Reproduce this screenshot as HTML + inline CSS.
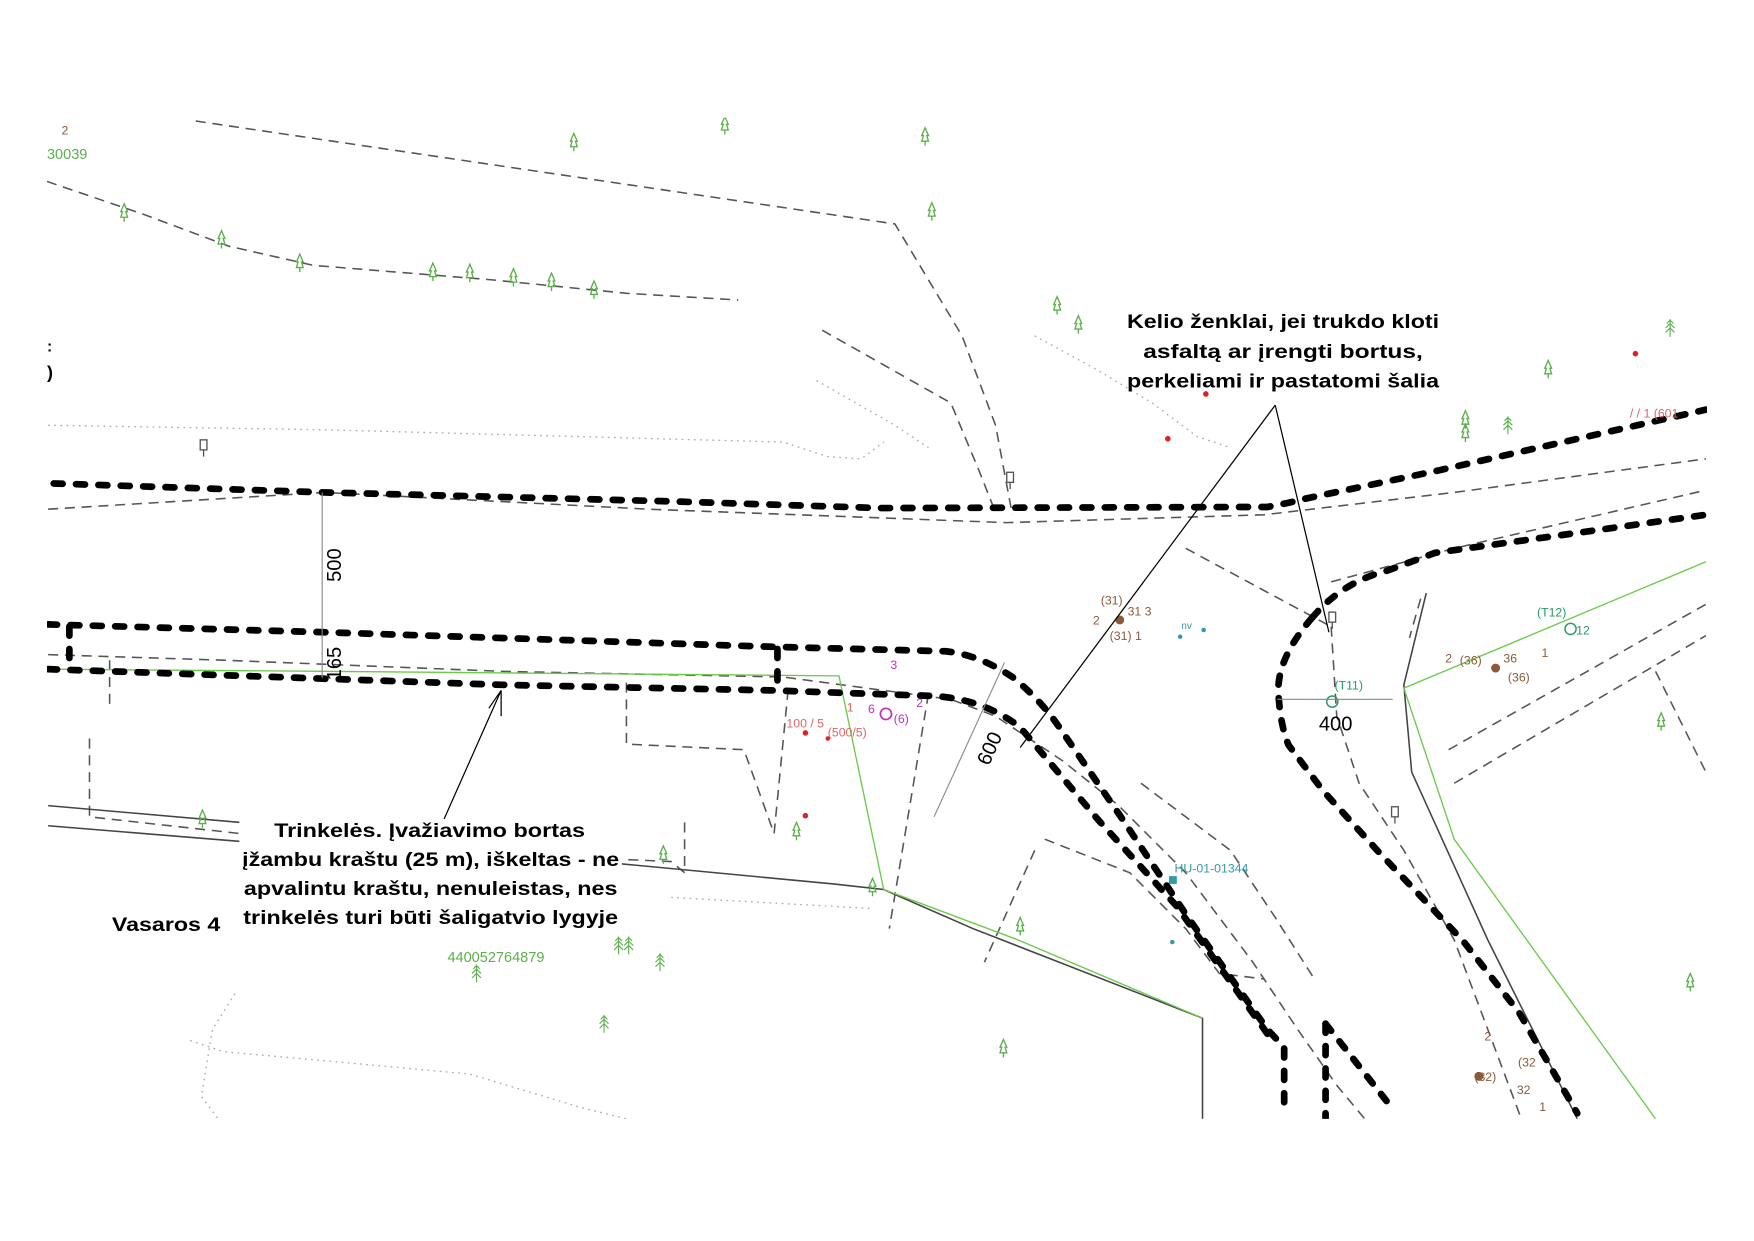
<!DOCTYPE html>
<html><head><meta charset="utf-8"><style>
html,body{margin:0;padding:0;background:#fff;}
svg{display:block;}
.b{font-family:"Liberation Sans",sans-serif;font-weight:bold;}
</style></head><body>
<svg width="1754" height="1241" viewBox="0 0 1568 1109" xmlns="http://www.w3.org/2000/svg">
<defs>
<clipPath id="map"><rect x="42" y="105" width="1484" height="895"/></clipPath>
<g id="tr"><path d="M0,-8 L3,-1 L1.5,-1 L3,4 L-3,4 L-1.5,-1 L-3,-1 Z M0,4 L0,8" fill="none" stroke="#5bb04a" stroke-width="1.2"/></g>
<g id="pine"><path d="M0,-8 L0,8 M-3,-4 L0,-7 L3,-4 M-4,0 L0,-4 L4,0 M-4,4 L0,0 L4,4" fill="none" stroke="#5bb04a" stroke-width="1"/></g>
<g id="sg"><rect x="-3" y="-6" width="6" height="9" fill="#fff" stroke="#555" stroke-width="1.2"/><path d="M0,3 L0,9" stroke="#555" stroke-width="1.2"/></g>
</defs>
<rect width="1568" height="1109" fill="#fff"/>
<g clip-path="url(#map)">
<g fill="none" stroke="#aaa" stroke-width="1.2" stroke-dasharray="1.5 4">
<path d="M43,380 L290,384 L700,395 L740,408 L770,410 L790,395"/>
<path d="M730,340 L800,380 L830,400"/>
<path d="M925,300 L980,330 L1030,360 L1070,390 L1100,400"/>
<path d="M210,888 L190,920 L180,980 L195,1000"/>
<path d="M170,930 L200,940 L290,948 L420,960 L520,990 L560,1000"/>
<path d="M600,802 L780,812"/>
</g>
<g fill="none" stroke="#555" stroke-width="1.4" stroke-dasharray="9 6">
<path d="M175,108 L800,200 L860,300 L890,380 L905,460"/>
<path d="M42,162 L130,192 L205,220 L280,237 L440,250 L560,262 L660,268"/>
<path d="M735,295 L850,360 L875,420 L890,458"/>
<path d="M43,455 L290,440 L580,455 L900,467 L1130,460 L1300,440 L1525,410"/>
<path d="M1060,490 L1190,560"/>
<path d="M1190,520 L1300,490 L1525,438"/>
<path d="M1190,560 L1195,640 L1215,700 L1255,760 L1300,840 L1360,1000"/>
<path d="M43,585 L200,590 L450,600 L700,605 L850,625 L890,640 L950,680 L1000,720 L1060,780 L1120,860 L1160,920 L1195,970 L1220,1000"/>
<path d="M98,590 L98,630"/>
<path d="M80,660 L80,730 L215,745"/>
<path d="M560,610 L560,665 L665,670 L692,745 L705,612"/>
<path d="M612,735 L612,780 L600,770 L555,768"/>
<path d="M830,620 L795,830"/>
<path d="M925,760 L880,860"/>
<path d="M934,750 L1010,780 L1060,830 L1090,870 L1130,875"/>
<path d="M1020,700 L1100,760 L1140,820 L1175,875"/>
<path d="M1295,670 L1525,540"/>
<path d="M1300,700 L1525,568"/>
<path d="M1480,600 L1525,690"/>
<path d="M1270,535 L1260,570"/>
</g>
<g fill="none" stroke="#444" stroke-width="1.4">
<path d="M43,720 L215,735"/>
<path d="M43,738 L215,752"/>
<path d="M555,772 L745,790 L790,795 L870,830 L1075,910 L1075,1000"/>
<path d="M1275,530 L1255,612 L1262,690 L1330,840 L1410,1000"/>
</g>
<g fill="none" stroke="#6cc94a" stroke-width="1.2">
<path d="M43,598 L300,600 L750,604 L790,795 L910,840 L1075,910"/>
<path d="M1255,615 L1525,502"/>
<path d="M1255,615 L1300,750 L1480,1000"/>
</g>
<g fill="none" stroke="#000" stroke-width="6" stroke-dasharray="8 12" stroke-linecap="round">
<path d="M48,432 L290,440 L600,448 L787,454 L1133,453 Q1150,450 1165,446 L1283,421 L1525,366"/>
<path d="M43,558 L290,565 L690,578 L845,582 Q875,585 905,605 Q930,625 947,650 L1002,730 L1062,820 L1133,920 L1148,936 L1148,997"/>
<path d="M43,598 L448,612 L690,617 L835,622 Q880,625 912,650 L982,733 L1052,810 L1133,924"/>
<path d="M1185,915 L1245,991"/>
<path d="M1185,915 L1185,1000"/>
<path d="M1173,552 Q1140,590 1143,622 Q1145,650 1152,666 L1183,707 L1233,762 L1308,841 L1358,905 L1410,995"/>
<path d="M1173,552 Q1200,520 1240,510 L1283,494 L1525,460"/>
<path d="M62,560 L62,598"/>
<path d="M695,580 L695,617"/>
</g>
<g>
<use href="#tr" x="513" y="127"/><use href="#tr" x="648" y="112"/><use href="#tr" x="827" y="122"/><use href="#tr" x="833" y="189"/>
<use href="#tr" x="111" y="190"/><use href="#tr" x="198" y="214"/><use href="#tr" x="268" y="235"/><use href="#tr" x="387" y="243"/>
<use href="#tr" x="420" y="244"/><use href="#tr" x="459" y="248"/><use href="#tr" x="493" y="252"/><use href="#tr" x="531" y="259"/>
<use href="#tr" x="945" y="273"/><use href="#tr" x="964" y="290"/><use href="#tr" x="1384" y="330"/><use href="#tr" x="1310" y="375"/>
<use href="#tr" x="1310" y="387"/><use href="#pine" x="1348" y="380"/><use href="#pine" x="1493" y="293"/>
<use href="#tr" x="181" y="732"/><use href="#tr" x="593" y="764"/><use href="#tr" x="712" y="743"/><use href="#tr" x="780" y="793"/>
<use href="#tr" x="912" y="828"/><use href="#tr" x="897" y="937"/><use href="#tr" x="1485" y="645"/><use href="#tr" x="1511" y="878"/>
<use href="#pine" x="553" y="845"/><use href="#pine" x="562" y="845"/><use href="#pine" x="590" y="860"/><use href="#pine" x="426" y="870"/><use href="#pine" x="540" y="915"/>
</g>
<use href="#sg" x="182" y="399"/><use href="#sg" x="903" y="428"/><use href="#sg" x="1191" y="553"/><use href="#sg" x="1247" y="727"/>
<g fill="#d22"><circle cx="1078" cy="352" r="2.5"/><circle cx="1044" cy="392" r="2.5"/><circle cx="1462" cy="316" r="2.5"/><circle cx="720" cy="655" r="2.5"/><circle cx="720" cy="729" r="2.5"/><circle cx="740" cy="660" r="2"/></g>
<circle cx="1001" cy="554" r="4" fill="#8b5a3a"/><circle cx="1337" cy="597" r="4" fill="#8b5a3a"/><circle cx="1322" cy="962" r="4" fill="#8b5a3a"/>
<circle cx="1191" cy="627" r="5" fill="none" stroke="#2a9a6a" stroke-width="1.3"/><circle cx="1404" cy="562" r="5" fill="none" stroke="#2a9a6a" stroke-width="1.3"/>
<circle cx="792" cy="638" r="5" fill="none" stroke="#c030c0" stroke-width="1.5"/>
<circle cx="1055" cy="569" r="2" fill="#39a"/><circle cx="1076" cy="563" r="2" fill="#39a"/><circle cx="1048" cy="842" r="2" fill="#39a"/><rect x="1045" y="783" width="7" height="7" fill="#39a"/>
<g font-family="Liberation Sans, sans-serif" font-size="11">
<text x="55" y="120" fill="#8b5a3a">2</text>
<text x="42" y="142" fill="#5bb04a" font-size="13">30039</text>
<text x="400" y="860" fill="#5bb04a" font-size="13">440052764879</text>
<text x="984" y="540" fill="#8b5a3a">(31)</text><text x="1008" y="550" fill="#8b5a3a">31  3</text><text x="977" y="558" fill="#8b5a3a">2</text><text x="992" y="572" fill="#8b5a3a">(31)  1</text>
<text x="1056" y="562" fill="#39a" font-size="9">nv</text>
<text x="1193" y="616" fill="#2a9a6a">(T11)</text><text x="1374" y="551" fill="#2a9a6a">(T12)</text><text x="1409" y="567" fill="#2a9a6a">12</text>
<text x="1292" y="592" fill="#8b5a3a">2</text><text x="1305" y="594" fill="#8b5a3a">(36)</text><text x="1344" y="592" fill="#8b5a3a">36</text><text x="1378" y="587" fill="#8b5a3a">1</text><text x="1348" y="609" fill="#8b5a3a">(36)</text>
<text x="1327" y="930" fill="#8b5a3a">2</text><text x="1357" y="953" fill="#8b5a3a">(32</text><text x="1318" y="966" fill="#8b5a3a">(32)</text><text x="1356" y="978" fill="#8b5a3a">32</text><text x="1376" y="993" fill="#8b5a3a">1</text>
<text x="796" y="598" fill="#c030c0">3</text><text x="776" y="637" fill="#c030c0">6</text><text x="799" y="646" fill="#c030c0">(6)</text><text x="819" y="632" fill="#c030c0">2</text>
<text x="703" y="650" fill="#d66">100 / 5</text><text x="740" y="658" fill="#d66">(500/5)</text><text x="757" y="636" fill="#d66">1</text>
<text x="1050" y="780" fill="#39a">HU-01-01344</text>
<text x="1457" y="373" fill="#d66">/ / 1 (601</text>
<text x="42" y="314" fill="#000" font-size="14" font-weight="bold">:</text>
<text x="42" y="338" fill="#000" font-size="16" font-weight="bold">)</text>
</g>
</g>
<g fill="none" stroke="#888" stroke-width="1">
<path d="M288,440 L288,606"/>
<path d="M898,592 L835,730"/>
<path d="M1142,625 L1245,625"/>
</g>
<text transform="translate(305,520) rotate(-90)" font-family="Liberation Sans, sans-serif" font-size="18">500</text>
<text transform="translate(305,608) rotate(-90)" font-family="Liberation Sans, sans-serif" font-size="18">165</text>
<text transform="translate(884,685) rotate(-66)" font-family="Liberation Sans, sans-serif" font-size="18">600</text>
<text x="1179" y="653" font-family="Liberation Sans, sans-serif" font-size="18">400</text>
<g fill="none" stroke="#000" stroke-width="1.1">
<path d="M1140,362 L912,668"/>
<path d="M1140,362 L1188,565"/>
<path d="M397,732 L448,617 M448,617 L448,640 M448,617 L437,633"/>
</g>
<g class="b" font-size="17.5" text-anchor="middle">
<text x="1147" y="293" textLength="279" lengthAdjust="spacingAndGlyphs">Kelio ženklai, jei trukdo kloti</text>
<text x="1147" y="320" textLength="250" lengthAdjust="spacingAndGlyphs">asfaltą ar įrengti bortus,</text>
<text x="1147" y="346" textLength="279" lengthAdjust="spacingAndGlyphs">perkeliami ir pastatomi šalia</text>
</g>
<rect x="214" y="732" width="342" height="104" fill="#fff"/>
<g class="b" font-size="17.5" text-anchor="middle">
<text x="384" y="748" textLength="278" lengthAdjust="spacingAndGlyphs">Trinkelės. Įvažiavimo bortas</text>
<text x="385" y="774" textLength="337" lengthAdjust="spacingAndGlyphs">įžambu kraštu (25 m), iškeltas - ne</text>
<text x="385" y="800" textLength="334" lengthAdjust="spacingAndGlyphs">apvalintu kraštu, nenuleistas, nes</text>
<text x="385" y="826" textLength="335" lengthAdjust="spacingAndGlyphs">trinkelės turi būti šaligatvio lygyje</text>
</g>
<text x="100" y="832" class="b" font-size="17.5" textLength="97" lengthAdjust="spacingAndGlyphs">Vasaros 4</text>
</svg>
</body></html>
